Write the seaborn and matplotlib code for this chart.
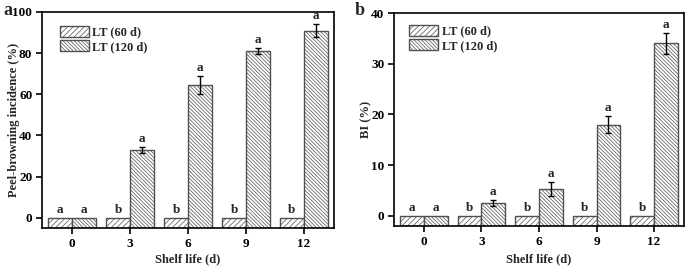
import numpy as np
import pandas as pd
import matplotlib
matplotlib.use("Agg")
import matplotlib.pyplot as plt
from matplotlib.container import BarContainer
import seaborn as sns

days = ["0", "3", "6", "9", "12"]
groups = ["LT (60 d)", "LT (120 d)"]

pbi_60 = [0, 0, 0, 0, 0]
pbi_120 = [0, 33, 64.5, 81, 91]
pbi_60_err = [0, 0, 0, 0, 0]
pbi_120_err = [0, 1.5, 4.2, 1.5, 3.2]
pbi_60_let = ["a", "b", "b", "b", "b"]
pbi_120_let = ["a", "a", "a", "a", "a"]

bi_60 = [0, 0, 0, 0, 0]
bi_120 = [0, 2.5, 5.3, 18, 34]
bi_60_err = [0, 0, 0, 0, 0]
bi_120_err = [0, 0.6, 1.3, 1.7, 2.1]
bi_60_let = ["a", "b", "b", "b", "b"]
bi_120_let = ["a", "a", "a", "a", "a"]

sns.set_theme(style="ticks")
plt.rcParams["font.family"] = ["Liberation Serif", "DejaVu Serif"]
plt.rcParams["font.weight"] = "bold"
plt.rcParams["hatch.linewidth"] = 0.5

W, H = 685, 266
fig = plt.figure(figsize=(6.85, 2.66), dpi=100)
ax1 = fig.add_axes([42 / W, 1 - 228 / H, (334 - 42) / W, (228 - 12) / H])
ax2 = fig.add_axes([394 / W, 1 - 226 / H, (684 - 394) / W, (226 - 13) / H])

hatches = ["//////", "\\\\\\\\\\\\\\\\\\"]
edge = "#505050"
FS = 9.5
LFS = 9


def panel(ax, v60, v120, e60, e120, l60, l120, ylim, yticks, ylabel, lab_off,
          ylab_x, xlab_y, leg_anchor):
    df = pd.DataFrame({
        "day": days * 2,
        "grp": [groups[0]] * 5 + [groups[1]] * 5,
        "val": list(v60) + list(v120),
    })
    sns.barplot(data=df, x="day", y="val", hue="grp", order=days, hue_order=groups,
                palette=["white", "white"], edgecolor=edge, linewidth=1.0,
                width=0.82, errorbar=None, ax=ax, legend=True)
    vals = [v60, v120]
    errs = [e60, e120]
    lets = [l60, l120]
    lo = ylim[0]
    bars = [c for c in ax.containers if isinstance(c, BarContainer)]
    for gi, cont in enumerate(bars):
        for di, p in enumerate(cont.patches):
            p.set_hatch(hatches[gi])
            h = p.get_height()
            p.set_y(lo)
            p.set_height(h - lo)
            xc = p.get_x() + p.get_width() / 2
            v = vals[gi][di]
            e = errs[gi][di]
            if e > 0:
                ax.errorbar(xc, v, yerr=e, fmt="none", ecolor="black",
                            elinewidth=1.0, capsize=2.5, capthick=1.0)
            ax.text(xc, v + e + lab_off, lets[gi][di], ha="center", va="bottom",
                    fontsize=FS, fontweight="bold")
    ax.set_ylim(*ylim)
    ax.set_xlim(-0.52, 4.52)
    ax.set_yticks(yticks)
    ax.set_ylabel(ylabel, fontsize=LFS, fontweight="bold")
    ax.set_xlabel("Shelf life (d)", fontsize=LFS, fontweight="bold")
    ax.yaxis.set_label_coords(ylab_x, 0.5)
    ax.xaxis.set_label_coords(0.5, xlab_y)
    for s in ["left", "bottom", "right", "top"]:
        ax.spines[s].set_visible(True)
        ax.spines[s].set_linewidth(1.2)
        ax.spines[s].set_color("black")
    ax.tick_params(axis="both", direction="out", length=4, width=1.2, pad=3,
                   labelsize=FS, colors="black", top=False, right=False)
    for t in ax.get_xticklabels() + ax.get_yticklabels():
        t.set_fontweight("bold")
    leg = ax.legend(loc="upper left", bbox_to_anchor=leg_anchor, frameon=False,
                    handlelength=2.3, handleheight=0.95,
                    labelspacing=0.12, handletextpad=0.3, borderaxespad=0,
                    borderpad=0, prop={"weight": "bold", "size": LFS})
    for i, h in enumerate(leg.legend_handles):
        h.set_hatch(hatches[i])
        h.set_edgecolor(edge)
        h.set_facecolor("white")
    ax.grid(False)


panel(ax1, pbi_60, pbi_120, pbi_60_err, pbi_120_err, pbi_60_let, pbi_120_let,
      (-5, 100), [0, 20, 40, 60, 80, 100], "Peel-browning incidence (%)", 1.0,
      (20 - 42) / 292, (228 - 253) / 216, ((60 - 42) / 292, 1 - (26 - 12) / 216))
panel(ax2, bi_60, bi_120, bi_60_err, bi_120_err, bi_60_let, bi_120_let,
      (-2, 40), [0, 10, 20, 30, 40], "BI (%)", 0.4,
      (372 - 394) / 290, (226 - 253) / 213, ((409 - 394) / 290, 1 - (25 - 13) / 213))

fig.text(3 / W, 1 - 2 / H, "a", fontsize=13, fontweight="bold", va="top")
fig.text(355 / W, 1 - 2 / H, "b", fontsize=13, fontweight="bold", va="top")

fig.savefig("out.png", dpi=100)
